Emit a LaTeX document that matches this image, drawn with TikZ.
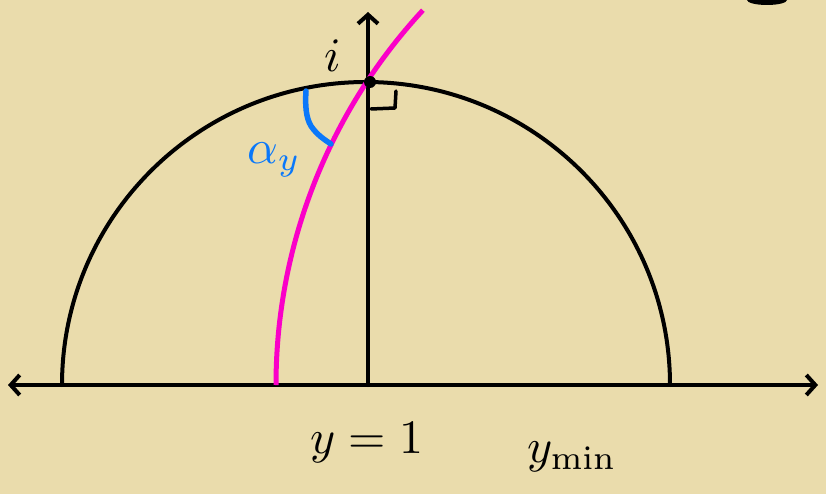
\documentclass[tikz,border=0pt]{standalone}
\usetikzlibrary{arrows.meta}
\definecolor{bg}{RGB}{234,220,172}
\definecolor{pinkc}{RGB}{250,0,200}
\definecolor{bluec}{RGB}{10,120,250}
\tikzset{barb/.tip={Straight Barb[length=9pt,width=20pt,line width=4pt]}}
\begin{document}
\begin{tikzpicture}[x=1pt,y=-1pt,
  ink/.style={line width=4pt,black,line cap=round,line join=round},
  lbl/.style={inner sep=0pt,scale=4.8,transform shape}]
\fill[bg] (0,0) rectangle (826,494);
\useasboundingbox (0,0) rectangle (826,494);
% top-right remnant
\fill[black] (767,0) ellipse [x radius=20pt, y radius=5pt];
\coordinate (O) at (368,385);
\coordinate (L) at (8,385);
\coordinate (R) at (818,385);
\coordinate (T) at (368,12);
\draw[ink,barb-barb] (L) -- (R);
\draw[ink,-barb] (O) -- (T);
% semicircle
\draw[ink] (62,385) arc[start angle=180,end angle=360,x radius=304,y radius=303];
% geodesic
\draw[pinkc,line width=5pt] (276,385) arc[start angle=180,end angle=222.8,radius=551.6];
% right angle and dot
\fill[black] (370,82) circle (6pt);
\draw[ink,line width=3.5pt] (371,109) -- (395,108) -- (396,91);
% angle mark
\draw[bluec,line width=5.5pt,line cap=round,line join=round] (306,91) .. controls (305,105) and (306,118) .. (311,126) .. controls (317,135) and (325,140) .. (331,144);
\node[lbl,text=bluec] (alpha) at (274,160) {$\alpha_y$};
\node[lbl] (i) at (333,56) {$i$};
\node[lbl] (y1) at (367,443) {$y=1$};
\node[lbl] (ymin) at (572,457) {$y_{\min}$};
\end{tikzpicture}
\end{document}
